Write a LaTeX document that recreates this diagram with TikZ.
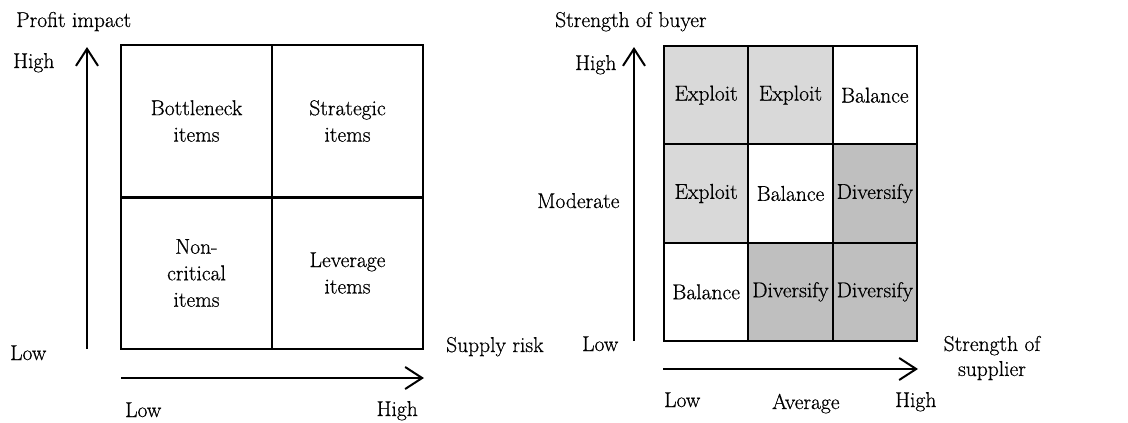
\documentclass[tikz,border=0pt]{standalone}
\usepackage{fontspec}
\setmainfont{Latin Modern Roman}[FakeBold=0.6]
\usetikzlibrary{arrows.meta}
\definecolor{lightfill}{RGB}{217,217,217}
\definecolor{darkfill}{RGB}{191,191,191}
\begin{document}
\begin{tikzpicture}[x=1pt,y=-1pt,
  lbl/.style={font=\fontsize{21.5}{26}\selectfont, inner sep=0pt},
  cell/.style={draw, line width=2pt, inner sep=0pt, outer sep=0pt, align=center,
               font=\fontsize{21.5}{26.5}\selectfont},
  quad/.style={cell, minimum width=151pt, minimum height=152pt},
  sq/.style={cell, minimum width=84.33pt, minimum height=98.33pt},
  exploit/.style={sq, fill=lightfill},
  diversify/.style={sq, fill=darkfill},
  balance/.style={sq, fill=white},
  axis/.style={line width=2pt, -{Straight Barb[length=17pt,width=22pt]}}]
\useasboundingbox (0,0) rectangle (1128,423);

% ---------- Kraljic portfolio matrix ----------
\node[quad] (bott) at (196.5,121) {Bottleneck\\items};
\node[quad] (strat) at (347.5,121) {Strategic\\items};
\node[quad] (noncr) at (196.5,273) {Non-\\critical\\items};
\node[quad] (lever) at (347.5,273) {Leverage\\items};
\draw[line width=3pt] (noncr.north west) -- (lever.north east);

\coordinate (vL0) at (87,349);
\coordinate (vL1) at (87,47);
\coordinate (hL0) at (121,378);
\coordinate (hL1) at (424,378);
\draw[axis] (vL0) -- (vL1);
\draw[axis] (hL0) -- (hL1);

\node[lbl, anchor=base west] (pi) at (16,27) {Profit impact};
\node[lbl, anchor=base west] (lhigh) at (13,68) {High};
\node[lbl, anchor=base west] (llow) at (10,360) {Low};
\node[lbl, anchor=base west] (blow) at (125,417) {Low};
\node[lbl, anchor=base east] (bhigh) at (418,416) {High};
\node[lbl, anchor=base west] (sr) at (446,352) {Supply risk};

% ---------- buyer / supplier strength matrix ----------
\node[exploit]   (c11) at (706.17,95.17) {Exploit};
\node[exploit]   (c12) at (790.5,95.17)  {Exploit};
\node[balance]   (c13) at (874.83,95.17) {Balance};
\node[exploit]   (c21) at (706.17,193.5) {Exploit};
\node[balance]   (c22) at (790.5,193.5)  {Balance};
\node[diversify] (c23) at (874.83,193.5) {Diversify};
\node[balance]   (c31) at (706.17,291.83) {Balance};
\node[diversify] (c32) at (790.5,291.83)  {Diversify};
\node[diversify] (c33) at (874.83,291.83) {Diversify};

\coordinate (vR0) at (634,341);
\coordinate (vR1) at (634,47);
\coordinate (hR0) at (663,369);
\coordinate (hR1) at (918,369);
\draw[axis] (vR0) -- (vR1);
\draw[axis] (hR0) -- (hR1);

\node[lbl, anchor=base west] (sb) at (555,27) {Strength of buyer};
\node[lbl, anchor=base west] (rhigh) at (575,70) {High};
\node[lbl, anchor=base west] (rmod) at (537,208) {Moderate};
\node[lbl, anchor=base west] (rlow) at (582,351) {Low};
\node[lbl, anchor=base west] (rblow) at (664,407) {Low};
\node[lbl, anchor=base west] (ravg) at (772,409) {Average};
\node[lbl, anchor=base west] (rbhigh) at (895,407) {High};
\node[lbl, align=center, anchor=center] (ss) at (992,358) {Strength of\\[-1pt]supplier};
\end{tikzpicture}
\end{document}
